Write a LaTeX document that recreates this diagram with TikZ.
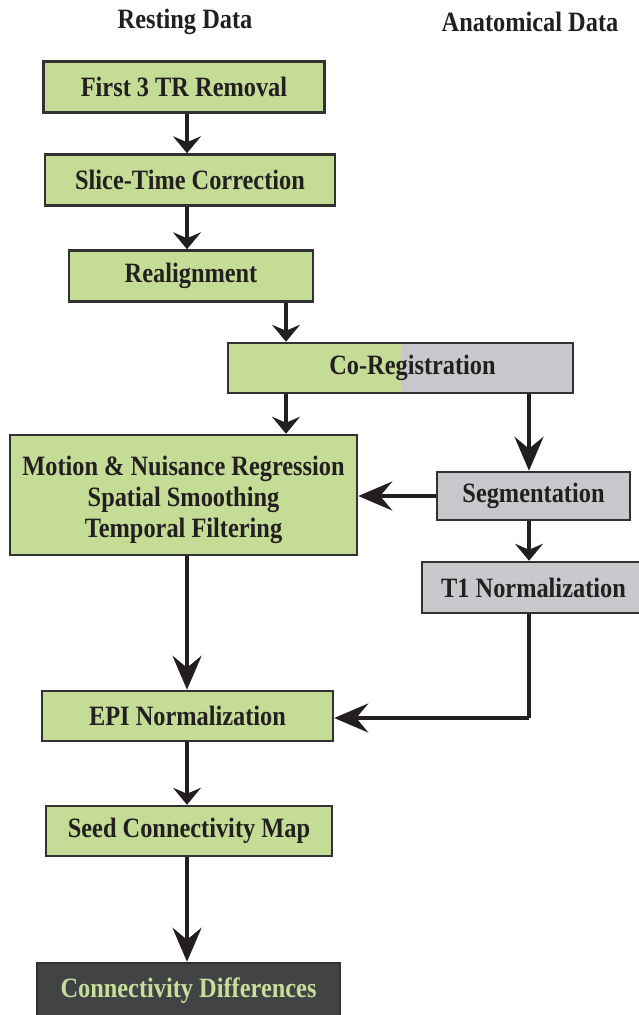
\documentclass[tikz,border=0pt]{standalone}
\usepackage{fontspec}
\setmainfont{Liberation Serif}[FakeStretch=0.87]
\usetikzlibrary{arrows.meta}
\definecolor{boxgreen}{RGB}{196,220,150}
\definecolor{boxgray}{RGB}{200,200,204}
\definecolor{boxdark}{RGB}{66,67,69}
\definecolor{txt}{RGB}{35,31,32}
\definecolor{edgec}{RGB}{50,50,50}
\definecolor{lightgreen}{RGB}{200,222,155}
\begin{document}
\begin{tikzpicture}[x=1pt,y=-1pt,
  lbl/.style={font=\fontsize{28}{31}\selectfont\bfseries, text=txt, align=center, inner sep=0pt},
  box/.style={lbl, draw=edgec, line width=2.5pt},
  gbox/.style={box, fill=boxgreen},
  abox/.style={box, fill=boxgray},
  dbox/.style={box, fill=boxdark, text=lightgreen},
  conn/.style={line width=4pt, draw=txt},
  sh/.style={conn, -{Stealth[length=17pt,width=28pt,inset=6pt]}},
  lg/.style={conn, -{Stealth[length=34pt,width=29pt,inset=12pt]}},
]
\useasboundingbox (0,0) rectangle (639,1015);

\node[lbl] (h1) at (185,22) {Resting Data};
\node[lbl] (h2) at (530,22) {Anatomical Data};

\node[gbox, minimum width=281pt, minimum height=51pt] (b1) at (184,87) {First 3 TR Removal};
\node[gbox, minimum width=290pt, minimum height=51pt] (b2) at (190,180) {Slice-Time Correction};
\node[gbox, minimum width=244pt, minimum height=51pt] (b3) at (191,276) {Realignment};
\node[box, minimum width=345pt, minimum height=50pt,
  path picture={
    \fill[boxgreen] (path picture bounding box.north west) rectangle ([xshift=173pt]path picture bounding box.south west);
    \fill[boxgray] ([xshift=173pt]path picture bounding box.north west) rectangle (path picture bounding box.south east);
  }] (cr) at (400.5,368) {\hspace*{24pt}Co-Registration};
\node[gbox, minimum width=347pt, minimum height=120pt] (mo) at (183.5,495)
  {\rule{0pt}{30pt}Motion \& Nuisance Regression\\Spatial Smoothing\\Temporal Filtering};
\node[abox, minimum width=193pt, minimum height=48pt] (sg) at (533.5,496) {Segmentation};
\node[abox, minimum width=223pt, minimum height=51pt] (t1) at (533.5,587.5) {T1 Normalization};
\node[gbox, minimum width=291pt, minimum height=50pt] (epi) at (187.5,716) {EPI Normalization};
\node[gbox, minimum width=286pt, minimum height=50pt] (sd) at (189,831) {Seed Connectivity Map};
\node[dbox, minimum width=303pt, minimum height=56pt] (cd) at (188.5,991) {Connectivity Differences};

\coordinate (xa) at (187,0);
\coordinate (xb) at (286,0);
\coordinate (xc) at (529,0);
\coordinate (bend) at (529,718);

\draw[sh] (xa |- b1.south) -- (xa |- b2.north);
\draw[sh] (xa |- b2.south) -- (xa |- b3.north);
\draw[sh] (xb |- b3.south) -- (xb |- cr.north);
\draw[sh] (xb |- cr.south) -- (xb |- mo.north);
\draw[lg] (xc |- cr.south) -- (xc |- sg.north);
\draw[lg] (sg.west) -- (sg.west -| mo.east);
\draw[sh] (xc |- sg.south) -- (xc |- t1.north);
\draw[conn] (xc |- t1.south) -- (bend);
\draw[lg] (bend) -- (bend -| epi.east);
\draw[lg] (xa |- mo.south) -- (xa |- epi.north);
\draw[sh] (xa |- epi.south) -- (xa |- sd.north);
\draw[lg] (xa |- sd.south) -- (xa |- cd.north);
\end{tikzpicture}
\end{document}
